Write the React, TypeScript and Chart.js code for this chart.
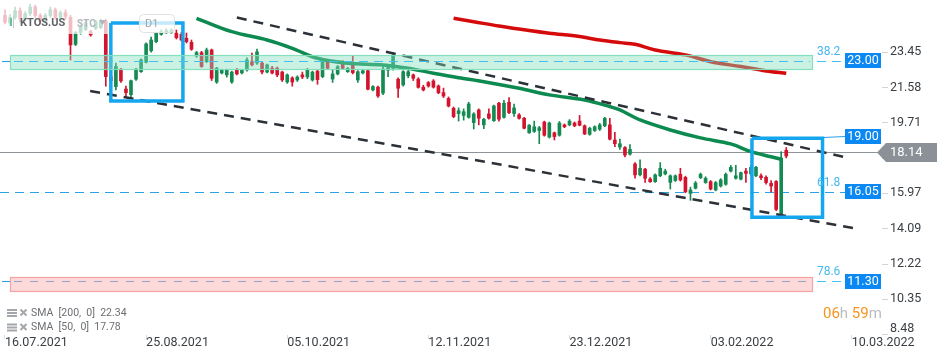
import React, { useEffect, useRef } from 'react';
import { Chart, registerables } from 'chart.js';

Chart.register(...registerables);

const FONT = 'Roboto, "Noto Sans", "DejaVu Sans", sans-serif';

// ---- x axis (trading-day index) ----
const xTickIdx = [0, 28, 56, 84, 112, 140, 168];
const xTickLabels = ['16.07.2021', '25.08.2021', '05.10.2021', '12.11.2021', '23.12.2021', '03.02.2022', '10.03.2022'];
const xMinIdx = -0.99;
const xMaxIdx = 174.0;

// ---- y axis ----
const yTicks = [23.45, 21.58, 19.71, 17.84, 15.97, 14.09, 12.22, 10.35, 8.48];
const yMin = 8.46;
const yMax = 26.22;

// ---- candles (daily OHLC) ----
const opens = [
  25.40, 25.00, 25.30, 25.65, 25.20, 25.50, 25.85, 25.40, 25.10, 25.40,
  25.70, 25.30, 25.55, 25.30, 23.87, 24.50, 24.65, 24.55, 24.72, 24.75,
  25.10, 22.15, 21.63, 22.55, 21.50, 21.20, 22.02, 22.42, 22.92, 23.53,
  24.01, 24.40, 24.48, 24.50, 24.46, 24.40, 24.19, 23.98, 23.25, 23.43,
  22.95, 23.57, 21.87, 22.35, 22.25, 21.87, 22.51, 22.35, 22.51, 22.95,
  22.88, 22.88, 22.40, 22.61, 22.61, 22.40, 21.87, 22.09, 21.98, 22.25,
  22.14, 21.98, 22.45, 22.16, 22.95, 22.03, 22.30, 22.82, 22.42, 22.78,
  21.98, 22.35, 22.47, 21.45, 21.60, 21.28, 22.50, 22.60, 22.02, 21.72,
  22.20, 22.25, 22.03, 21.60, 21.84, 21.93, 21.66, 21.31, 21.00, 20.48,
  20.20, 20.10, 20.00, 19.72, 20.39, 19.60, 20.18, 19.82, 20.75, 20.00,
  20.80, 20.20, 20.13, 19.95, 19.18, 19.25, 19.30, 19.75, 18.95, 19.18,
  19.05, 19.60, 19.60, 19.70, 19.80, 19.55, 19.10, 19.30, 19.37, 19.55,
  19.60, 18.80, 18.42, 18.40, 18.05, 17.53, 16.95, 17.25, 16.73, 16.59,
  16.90, 17.00, 16.55, 16.65, 16.98, 16.82, 15.97, 16.24, 16.80, 16.54,
  16.59, 16.15, 16.36, 16.45, 17.15, 16.77, 16.72, 17.15, 17.00, 16.90,
  16.90, 16.82, 16.50, 16.60, 14.88, 18.25,
];
const highs = [
  25.70, 25.45, 25.85, 25.80, 25.60, 26.00, 25.95, 25.50, 25.50, 25.85,
  25.80, 25.65, 25.70, 25.40, 24.55, 24.90, 25.10, 24.62, 25.15, 25.20,
  25.20, 22.20, 22.88, 22.60, 21.66, 21.98, 22.60, 23.10, 23.95, 24.26,
  24.50, 24.65, 24.70, 24.70, 24.63, 24.50, 24.47, 24.10, 23.50, 23.50,
  23.67, 23.62, 22.65, 22.55, 22.55, 22.45, 22.60, 22.55, 23.15, 23.40,
  23.62, 22.95, 22.82, 22.70, 22.66, 22.45, 22.30, 22.15, 22.20, 22.40,
  22.60, 22.45, 22.50, 23.05, 23.00, 22.50, 22.75, 23.00, 22.65, 23.25,
  22.48, 22.55, 22.52, 21.68, 21.65, 22.75, 22.80, 23.45, 22.10, 22.48,
  22.55, 22.30, 22.10, 21.70, 21.90, 22.00, 21.72, 21.55, 21.08, 20.55,
  20.50, 20.45, 20.80, 20.25, 20.45, 19.95, 20.45, 20.65, 20.80, 20.90,
  21.05, 20.70, 20.20, 20.00, 19.62, 19.80, 19.52, 19.80, 19.75, 19.22,
  19.78, 19.65, 19.88, 19.75, 20.10, 19.60, 19.48, 19.55, 19.68, 20.00,
  19.95, 19.20, 18.85, 18.45, 18.55, 17.60, 17.75, 17.30, 16.80, 17.00,
  17.60, 17.25, 16.95, 16.95, 17.30, 16.88, 16.30, 16.60, 17.05, 16.85,
  16.65, 16.60, 16.75, 17.05, 17.45, 17.45, 17.10, 17.30, 17.45, 17.40,
  17.00, 16.90, 16.65, 16.65, 18.18, 18.40,
];
const lows = [
  24.95, 24.90, 25.20, 25.05, 25.10, 25.40, 25.30, 24.95, 25.00, 25.30,
  25.20, 25.20, 25.20, 23.04, 23.80, 24.40, 24.60, 24.30, 24.65, 24.70,
  21.65, 21.85, 21.45, 21.85, 21.10, 21.10, 21.95, 22.38, 22.88, 23.45,
  23.95, 24.35, 24.45, 24.45, 24.15, 24.05, 23.94, 23.55, 23.18, 22.65,
  22.90, 21.95, 21.80, 22.30, 22.13, 21.80, 22.25, 22.30, 22.45, 22.72,
  22.80, 22.30, 22.35, 22.30, 22.15, 21.90, 21.80, 21.65, 21.90, 22.05,
  22.05, 21.92, 21.75, 22.10, 22.55, 21.85, 22.25, 22.55, 22.38, 22.30,
  21.85, 22.30, 21.45, 21.40, 21.05, 21.20, 22.15, 22.50, 21.05, 21.65,
  22.10, 21.95, 21.55, 21.40, 21.60, 21.55, 21.25, 21.05, 20.55, 19.98,
  19.80, 19.85, 19.95, 19.38, 19.60, 19.40, 19.90, 19.78, 19.80, 19.95,
  20.20, 20.05, 19.90, 19.38, 19.15, 19.20, 18.60, 19.00, 18.90, 18.80,
  19.00, 19.45, 19.55, 19.50, 19.55, 19.08, 19.05, 19.25, 19.30, 19.50,
  18.80, 18.45, 18.30, 17.90, 18.00, 16.77, 16.90, 16.55, 16.55, 16.55,
  16.85, 16.95, 16.20, 16.60, 16.62, 16.00, 15.60, 16.20, 16.75, 16.50,
  16.15, 16.10, 16.30, 16.40, 17.10, 16.72, 16.68, 16.55, 16.95, 16.85,
  16.70, 16.45, 16.05, 15.05, 14.85, 17.85,
];
const closes = [
  25.05, 25.30, 25.65, 25.20, 25.50, 25.85, 25.40, 25.10, 25.40, 25.70,
  25.30, 25.55, 25.35, 23.84, 24.49, 24.80, 25.00, 24.37, 25.07, 25.10,
  22.16, 21.95, 22.69, 21.93, 21.31, 21.94, 22.55, 23.04, 23.89, 24.10,
  24.46, 24.54, 24.60, 24.62, 24.22, 24.10, 24.01, 23.61, 23.43, 22.69,
  23.57, 22.07, 22.61, 22.51, 22.51, 22.40, 22.30, 22.51, 23.04, 22.78,
  23.47, 22.40, 22.78, 22.35, 22.25, 21.98, 22.25, 21.87, 22.14, 22.14,
  22.51, 22.40, 22.00, 22.95, 22.60, 22.30, 22.69, 22.60, 22.60, 22.37,
  22.42, 22.47, 21.49, 21.63, 21.13, 22.56, 22.70, 23.30, 21.54, 22.42,
  22.42, 22.07, 21.59, 21.45, 21.66, 21.60, 21.30, 21.13, 20.60, 20.04,
  20.35, 20.30, 20.71, 20.18, 19.95, 19.90, 19.95, 20.60, 19.90, 20.75,
  20.25, 20.50, 19.95, 19.42, 19.58, 19.50, 19.45, 19.05, 19.70, 18.98,
  19.70, 19.50, 19.80, 19.55, 19.58, 19.12, 19.42, 19.50, 19.60, 19.95,
  18.84, 18.60, 18.60, 18.00, 18.30, 16.95, 17.30, 16.77, 16.59, 16.95,
  17.30, 17.15, 16.90, 16.90, 16.68, 16.05, 16.15, 16.52, 16.98, 16.77,
  16.20, 16.54, 16.68, 16.98, 17.35, 16.90, 17.07, 17.03, 17.35, 17.35,
  16.80, 16.54, 16.36, 15.12, 17.84, 17.95,
];

// ---- moving averages ----
const sma50Idx = [38, 45, 52, 57, 62, 68, 75, 80, 85, 90, 95, 102, 108, 115, 120, 122, 126, 132, 138, 144, 148, 152, 154];
const sma50Val = [25.25, 24.54, 24.10, 23.66, 23.13, 22.87, 22.78, 22.60, 22.34, 22.10, 21.89, 21.54, 21.19, 20.92, 20.57, 20.39, 19.86, 19.33, 18.91, 18.59, 18.18, 17.91, 17.78];
const sma200Idx = [89, 93, 98, 104, 108, 114, 118, 122, 125, 129, 135, 140, 146, 151, 155];
const sma200Val = [25.25, 25.07, 24.84, 24.60, 24.46, 24.28, 24.10, 23.96, 23.87, 23.57, 23.31, 22.95, 22.69, 22.46, 22.34];
const sma200Last = 22.34;
const sma50Last = 17.78;

// ---- drawn channel lines ----
const upperTrendIdx = [46.0, 166.3];
const upperTrendVal = [25.29, 17.91];
const lowerTrendIdx = [16.9, 168.3];
const lowerTrendVal = [21.40, 14.13];

// ---- highlight boxes ----
const box1Idx = [21.0, 35.3];
const box1Val = [20.87, 25.0];
const box2Idx = [148.2, 162.2];
const box2Val = [14.70, 18.89];

// ---- levels ----
const fibLevels = [23.0, 16.05, 11.3];
const fibNames = ['38.2', '61.8', '78.6'];
const zoneLo = [22.58, 10.81];
const zoneHi = [23.29, 11.52];
const zoneFill = ['rgba(128,222,186,0.42)', 'rgba(252,186,186,0.55)'];
const zoneEdge = ['rgba(128,222,186,0.95)', 'rgba(244,160,160,0.95)'];
const zoneIdx = [1.0, 160.1];
const targetLevel = 19.0;
const lastPrice = 18.14;

const UP = '#168a53';
const DOWN = '#d3142e';
const BLUE_BOX = '#14a6ee';
const TAG_BLUE = '#0b88f1';

function tag(ctx: CanvasRenderingContext2D, x: number, yc: number, text: string) {
  ctx.fillStyle = TAG_BLUE;
  ctx.fillRect(x, Math.round(yc - 7.5), 36, 15);
  ctx.fillStyle = '#ffffff';
  ctx.font = `12.5px ${FONT}`;
  ctx.textAlign = 'center';
  ctx.textBaseline = 'middle';
  ctx.fillText(text, x + 18, yc + 0.5);
}

const annotations = {
  id: 'annotations',
  beforeDatasetsDraw(chart: any) {
    const { ctx, chartArea: ca, scales } = chart;
    const ys = scales.y;
    ctx.save();
    const yl = Math.round(ys.getPixelForValue(lastPrice)) + 0.5;
    ctx.strokeStyle = '#8e9398';
    ctx.lineWidth = 1.2;
    ctx.beginPath();
    ctx.moveTo(ca.left, yl);
    ctx.lineTo(ca.right, yl);
    ctx.stroke();
    // 16.05 level line (no zone)
    const y2 = Math.round(ys.getPixelForValue(fibLevels[1])) + 0.5;
    ctx.strokeStyle = '#2aa3e4';
    ctx.lineWidth = 1;
    ctx.setLineDash([9, 6]);
    ctx.beginPath();
    ctx.moveTo(ca.left, y2);
    ctx.lineTo(ca.right - 37, y2);
    ctx.stroke();
    ctx.restore();
  },
  afterDatasetsDraw(chart: any) {
    const { ctx, chartArea: ca, scales } = chart;
    const xs = scales.x, ys = scales.y;
    const zx0 = xs.getPixelForValue(zoneIdx[0]);
    const zx1 = xs.getPixelForValue(zoneIdx[1]);
    const tagLeft = ca.right - 37;
    ctx.save();
    // zones
    [0, 1].forEach((k) => {
      const yTop = Math.round(ys.getPixelForValue(zoneHi[k])) + 0.5;
      const yBot = Math.round(ys.getPixelForValue(zoneLo[k])) + 0.5;
      ctx.fillStyle = zoneFill[k];
      ctx.fillRect(zx0, yTop, zx1 - zx0, yBot - yTop);
      ctx.strokeStyle = zoneEdge[k];
      ctx.lineWidth = 1.2;
      ctx.strokeRect(Math.round(zx0) + 0.5, yTop, Math.round(zx1 - zx0), yBot - yTop);
    });
    // level lines through zones
    const zoneLevels = [fibLevels[0], fibLevels[2]];
    const inside = ['#43c1ee', '#93a6c2'];
    zoneLevels.forEach((lv, k) => {
      const yv = Math.round(ys.getPixelForValue(lv)) + 0.5;
      ctx.setLineDash([]);
      ctx.strokeStyle = '#2a9fe6';
      ctx.lineWidth = 1.1;
      ctx.beginPath();
      ctx.moveTo(2, yv);
      ctx.lineTo(zx0, yv);
      ctx.stroke();
      ctx.setLineDash(k === 0 ? [9, 6] : [8, 8]);
      ctx.strokeStyle = inside[k];
      ctx.beginPath();
      ctx.moveTo(zx0 + 4, yv);
      ctx.lineTo(zx1 - 2, yv);
      ctx.stroke();
      ctx.setLineDash([9, 6]);
      ctx.strokeStyle = '#43c1ee';
      ctx.beginPath();
      ctx.moveTo(zx1 + 5, yv);
      ctx.lineTo(tagLeft, yv);
      ctx.stroke();
    });
    ctx.setLineDash([]);
    // fib labels
    ctx.font = `12px ${FONT}`;
    ctx.fillStyle = '#45b8ee';
    ctx.textAlign = 'left';
    ctx.textBaseline = 'middle';
    fibLevels.forEach((lv, k) => {
      const yv = ys.getPixelForValue(lv);
      ctx.fillText(fibNames[k], zx1 + 5, yv - 9);
    });
    // connector from box to target tag
    const yt = Math.round(ys.getPixelForValue(targetLevel)) + 0.5;
    ctx.strokeStyle = '#2a9de8';
    ctx.lineWidth = 1;
    ctx.beginPath();
    ctx.moveTo(xs.getPixelForValue(box2Idx[1]) + 1, yt + 1);
    ctx.lineTo(tagLeft, yt);
    ctx.stroke();
    ctx.restore();
  },
  afterDraw(chart: any) {
    const { ctx, chartArea: ca, scales } = chart;
    const ys = scales.y;
    const tagLeft = ca.right - 37;
    ctx.save();
    // level tags
    tag(ctx, tagLeft, ys.getPixelForValue(fibLevels[0]), fibLevels[0].toFixed(2));
    tag(ctx, tagLeft, ys.getPixelForValue(targetLevel), targetLevel.toFixed(2));
    tag(ctx, tagLeft, ys.getPixelForValue(fibLevels[1]), fibLevels[1].toFixed(2));
    tag(ctx, tagLeft, ys.getPixelForValue(fibLevels[2]), fibLevels[2].toFixed(2));
    // last price tag
    const yc = Math.round(ys.getPixelForValue(lastPrice)) + 0.5;
    const x0 = ca.right - 5;
    ctx.fillStyle = '#8b9196';
    ctx.beginPath();
    ctx.moveTo(x0, yc);
    ctx.lineTo(x0 + 9, yc - 9.5);
    ctx.lineTo(x0 + 60, yc - 9.5);
    ctx.lineTo(x0 + 60, yc + 9.5);
    ctx.lineTo(x0 + 9, yc + 9.5);
    ctx.closePath();
    ctx.fill();
    ctx.fillStyle = '#ffffff';
    ctx.font = `13px ${FONT}`;
    ctx.textAlign = 'left';
    ctx.textBaseline = 'middle';
    ctx.fillText(lastPrice.toFixed(2), x0 + 13, yc + 0.5);

    // header overlay
    ctx.fillStyle = 'rgba(255,255,255,0.72)';
    ctx.fillRect(0, 0, 108, 34);
    ctx.fillStyle = '#6cc097';
    ctx.fillRect(10, 18, 2, 8);
    ctx.fillStyle = '#c9ccd0';
    ctx.fillRect(13, 16, 1, 12);
    ctx.font = `bold 11px ${FONT}`;
    ctx.fillStyle = '#5f6368';
    ctx.textAlign = 'left';
    ctx.textBaseline = 'middle';
    ctx.fillText('KTOS.US', 20, 23);
    ctx.font = `bold 10px ${FONT}`;
    ctx.fillStyle = '#b3b7bb';
    ctx.fillText('STC', 77, 24);
    ctx.beginPath();
    ctx.moveTo(99, 20);
    ctx.lineTo(106, 20);
    ctx.lineTo(102.5, 25);
    ctx.closePath();
    ctx.fill();
    // timeframe box
    ctx.fillStyle = 'rgba(255,255,255,0.75)';
    ctx.strokeStyle = '#e0e2e4';
    ctx.lineWidth = 1;
    ctx.beginPath();
    (ctx as any).roundRect(139.5, 14.5, 35, 18, 4);
    ctx.fill();
    ctx.stroke();
    ctx.fillStyle = '#a0a5aa';
    ctx.font = `11px ${FONT}`;
    ctx.fillText('D1', 145, 24);

    // indicator legend
    const rows = [`SMA  [200,  0]  ${sma200Last.toFixed(2)}`, `SMA  [50,  0]  ${sma50Last.toFixed(2)}`];
    rows.forEach((t, k) => {
      const yy = 313 + k * 14.5;
      ctx.fillStyle = '#a3a7ab';
      ctx.fillRect(7, yy - 4, 10, 2);
      ctx.fillRect(7, yy - 1, 10, 2);
      ctx.fillRect(7, yy + 2, 10, 2);
      ctx.strokeStyle = '#a3a7ab';
      ctx.lineWidth = 2;
      ctx.beginPath();
      ctx.moveTo(20.5, yy - 3.5);
      ctx.lineTo(26.5, yy + 2.5);
      ctx.moveTo(26.5, yy - 3.5);
      ctx.lineTo(20.5, yy + 2.5);
      ctx.stroke();
      ctx.fillStyle = '#6b6f73';
      ctx.font = `10.5px ${FONT}`;
      ctx.textAlign = 'left';
      ctx.textBaseline = 'middle';
      ctx.fillText(t, 31, yy);
    });

    // countdown
    const parts: [string, string][] = [['06', '#f7941d'], ['h', '#b9bdc1'], [' ', '#b9bdc1'], ['59', '#f7941d'], ['m', '#b9bdc1']];
    ctx.font = `15px ${FONT}`;
    ctx.textBaseline = 'middle';
    let cx = 823;
    parts.forEach(([s, c]) => {
      ctx.fillStyle = c;
      ctx.fillText(s, cx, 314);
      cx += ctx.measureText(s).width;
    });
    ctx.restore();
  },
};

const rect = (xi: number[], yv: number[]) => [
  { x: xi[0], y: yv[1] },
  { x: xi[1], y: yv[1] },
  { x: xi[1], y: yv[0] },
  { x: xi[0], y: yv[0] },
  { x: xi[0], y: yv[1] },
];

const candleColor = (ctx: any) => {
  const i = ctx.dataIndex;
  return closes[i] >= opens[i] ? UP : DOWN;
};

export default function App() {
  const ref = useRef<HTMLCanvasElement>(null);
  useEffect(() => {
    document.body.style.margin = '0';
    const wickData = highs.map((h, i) => ({ x: i, y: [lows[i], h] }));
    const bodyData = opens.map((o, i) => ({ x: i, y: [o, closes[i]] }));
    const chart = new Chart(ref.current as HTMLCanvasElement, {
      type: 'bar',
      data: {
        datasets: [
          {
            type: 'bar',
            data: wickData as any,
            backgroundColor: candleColor,
            barThickness: 1,
            grouped: false,
            order: 10,
          } as any,
          {
            type: 'bar',
            data: bodyData as any,
            backgroundColor: candleColor,
            barThickness: 3,
            minBarLength: 1,
            grouped: false,
            order: 9,
          } as any,
          {
            type: 'line',
            data: sma50Idx.map((x, i) => ({ x, y: sma50Val[i] })),
            borderColor: '#0d8a4f',
            borderWidth: 3.5,
            pointRadius: 0,
            tension: 0.35,
            order: 6,
          },
          {
            type: 'line',
            data: sma200Idx.map((x, i) => ({ x, y: sma200Val[i] })),
            borderColor: '#d50b0b',
            borderWidth: 3.5,
            pointRadius: 0,
            tension: 0.35,
            order: 6,
          },
          {
            type: 'line',
            data: upperTrendIdx.map((x, i) => ({ x, y: upperTrendVal[i] })),
            borderColor: '#2b3136',
            borderWidth: 2.5,
            borderDash: [10, 7],
            pointRadius: 0,
            order: 5,
          },
          {
            type: 'line',
            data: lowerTrendIdx.map((x, i) => ({ x, y: lowerTrendVal[i] })),
            borderColor: '#2b3136',
            borderWidth: 2.5,
            borderDash: [10, 7],
            pointRadius: 0,
            order: 5,
          },
          {
            type: 'line',
            data: rect(box1Idx, box1Val),
            borderColor: BLUE_BOX,
            borderWidth: 3.5,
            borderJoinStyle: 'miter',
            pointRadius: 0,
            order: 1,
          },
          {
            type: 'line',
            data: rect(box2Idx, box2Val),
            borderColor: BLUE_BOX,
            borderWidth: 3.5,
            borderJoinStyle: 'miter',
            pointRadius: 0,
            order: 1,
          },
        ] as any,
      },
      options: {
        responsive: false,
        animation: false,
        events: [],
        layout: { padding: 0 },
        plugins: { legend: { display: false }, tooltip: { enabled: false } },
        scales: {
          x: {
            type: 'linear',
            min: xMinIdx,
            max: xMaxIdx,
            offset: false,
            position: 'bottom',
            afterBuildTicks: (s: any) => {
              s.ticks = xTickIdx.map((v) => ({ value: v }));
            },
            afterFit: (s: any) => {
              s.height = 25;
              s.paddingLeft = 0;
              s.paddingRight = 0;
            },
            ticks: {
              autoSkip: false,
              maxRotation: 0,
              align: 'start',
              padding: -4,
              color: '#3a3f44',
              font: { family: FONT, size: 12.5 },
              callback: (v: any) => {
                const k = xTickIdx.indexOf(Number(v));
                return k >= 0 ? xTickLabels[k] : '';
              },
            },
            grid: { display: true, drawOnChartArea: false, tickLength: 4, color: '#d9dbdd', offset: false },
            border: { display: false },
          },
          y: {
            type: 'linear',
            position: 'right',
            min: yMin,
            max: yMax,
            afterBuildTicks: (s: any) => {
              s.ticks = yTicks.map((v) => ({ value: v }));
            },
            afterFit: (s: any) => {
              s.width = 68;
              s.paddingTop = 0;
              s.paddingBottom = 0;
            },
            ticks: {
              padding: 2,
              color: '#3a3f44',
              font: { family: FONT, size: 12.5, lineHeight: 0.85 },
              // the bottom label sits a little above its tick, as in the original
              callback: (v: any, i: number) => (i === yTicks.length - 1 ? [Number(v).toFixed(2), ''] : Number(v).toFixed(2)),
            },
            grid: { display: true, drawOnChartArea: false, tickLength: 6, color: '#d2d4d6' },
            border: { display: false },
          },
        },
      } as any,
      plugins: [annotations],
    });
    return () => chart.destroy();
  }, []);
  return <canvas ref={ref} width={950} height={360} style={{ display: 'block', width: 950, height: 360 }} />;
}
